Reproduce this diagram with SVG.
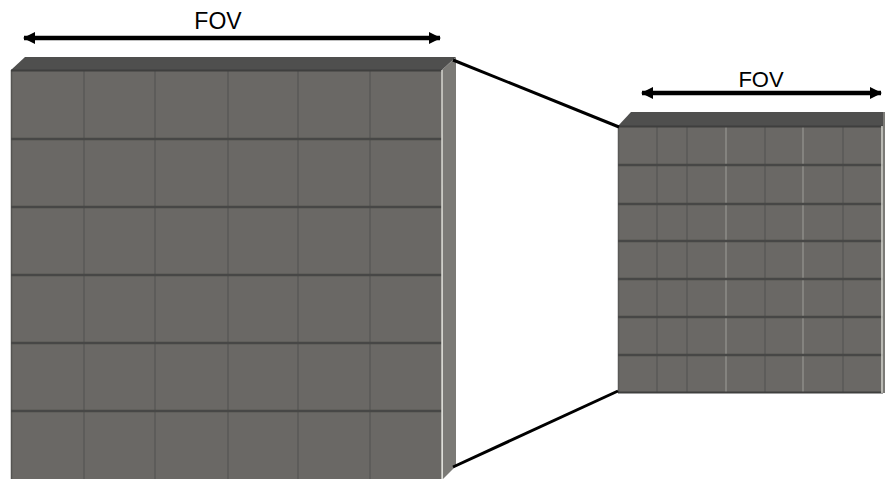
<svg xmlns="http://www.w3.org/2000/svg" width="885" height="479" viewBox="0 0 885 479">
  <style>
    .front { fill: #6a6865; }
    .top { fill: #4f4f4e; }
    .side { fill: #7b7a76; }
    .hl { stroke: #d6d6cf; stroke-width: 1.5; }
    .row { stroke: #474746; stroke-width: 2.5; }
    .col { stroke: #5a5957; stroke-width: 1.5; }
    .lite { stroke: #8e8d88; stroke-width: 1.5; }
    .label { font-family: "Liberation Sans", Arial, sans-serif; fill: #000; }
    .link { stroke: #000; stroke-width: 3; fill: none; }
    .dim { stroke: #000; stroke-width: 4.5; fill: none; }
  </style>
  <defs>
    <marker id="head" viewBox="0 0 12 12" refX="11" refY="6" markerWidth="12" markerHeight="12" markerUnits="userSpaceOnUse" orient="auto-start-reverse">
      <path d="M0,0 L12,6 L0,12 Z" fill="#000"/>
    </marker>
  </defs>

  <!-- large voxel block -->
  <g id="block-large">
    <polygon class="top" points="11,70 25,57 456,57 442,70"/>
    <polygon class="side" points="442,70 456,57 456,466 443,479"/>
    <rect class="front" x="11" y="70" width="431" height="409"/>
    <line x1="11.5" y1="70" x2="11.5" y2="479" stroke="#555452" stroke-width="1.5"/>
    <g class="col">
      <line x1="84" y1="70" x2="84" y2="479"/>
      <line x1="155" y1="70" x2="155" y2="479"/>
      <line x1="228" y1="70" x2="228" y2="479"/>
      <line x1="298" y1="70" x2="298" y2="479"/>
      <line x1="370" y1="70" x2="370" y2="479"/>
    </g>
    <line x1="11" y1="70.5" x2="442" y2="70.5" stroke="#3f3f3e" stroke-width="2"/>
    <g class="row">
      <line x1="11" y1="139" x2="442" y2="139"/>
      <line x1="11" y1="207" x2="442" y2="207"/>
      <line x1="11" y1="275" x2="442" y2="275"/>
      <line x1="11" y1="343" x2="442" y2="343"/>
      <line x1="11" y1="411" x2="442" y2="411"/>
    </g>
    <line class="hl" x1="442" y1="70" x2="442" y2="479"/>
  </g>

  <!-- small voxel block -->
  <g id="block-small">
    <polygon class="top" points="618,126 631,112 885,112 883,126"/>
    <rect class="side" x="883" y="112" width="2" height="281"/>
    <rect class="front" x="618" y="126" width="265" height="267"/>
    <g class="col">
      <line x1="618.5" y1="126" x2="618.5" y2="393"/>
      <line x1="657" y1="126" x2="657" y2="393"/>
      <line x1="687" y1="126" x2="687" y2="393"/>
      <line x1="765" y1="126" x2="765" y2="393"/>
      <line x1="843" y1="126" x2="843" y2="393"/>
    </g>
    <g class="lite">
      <line x1="726" y1="126" x2="726" y2="393"/>
      <line x1="803" y1="126" x2="803" y2="393"/>
    </g>
    <line x1="618" y1="126.5" x2="883" y2="126.5" stroke="#3f3f3e" stroke-width="2"/>
    <g class="row">
      <line x1="618" y1="165" x2="883" y2="165"/>
      <line x1="618" y1="204" x2="883" y2="204"/>
      <line x1="618" y1="241" x2="883" y2="241"/>
      <line x1="618" y1="279" x2="883" y2="279"/>
      <line x1="618" y1="317" x2="883" y2="317"/>
      <line x1="618" y1="355" x2="883" y2="355"/>
    </g>
    <line x1="618" y1="392.5" x2="883" y2="392.5" stroke="#3f3f3e" stroke-width="2"/>
    <line class="hl" x1="882" y1="126" x2="882" y2="393"/>
  </g>

  <!-- field-of-view dimension arrows and labels -->
  <g id="fov-large">
    <line class="dim" x1="24" y1="38" x2="440" y2="38" marker-start="url(#head)" marker-end="url(#head)"/>
    <text class="label" x="218" y="29" font-size="23" text-anchor="middle">FOV</text>
  </g>
  <g id="fov-small">
    <line class="dim" x1="642" y1="93" x2="881" y2="93" marker-start="url(#head)" marker-end="url(#head)"/>
    <text class="label" x="761" y="87" font-size="22" text-anchor="middle">FOV</text>
  </g>

  <!-- projection lines between the blocks -->
  <g id="connectors">
    <line class="link" x1="453" y1="60" x2="619" y2="127"/>
    <line class="link" x1="453" y1="467" x2="618" y2="391"/>
  </g>
</svg>
